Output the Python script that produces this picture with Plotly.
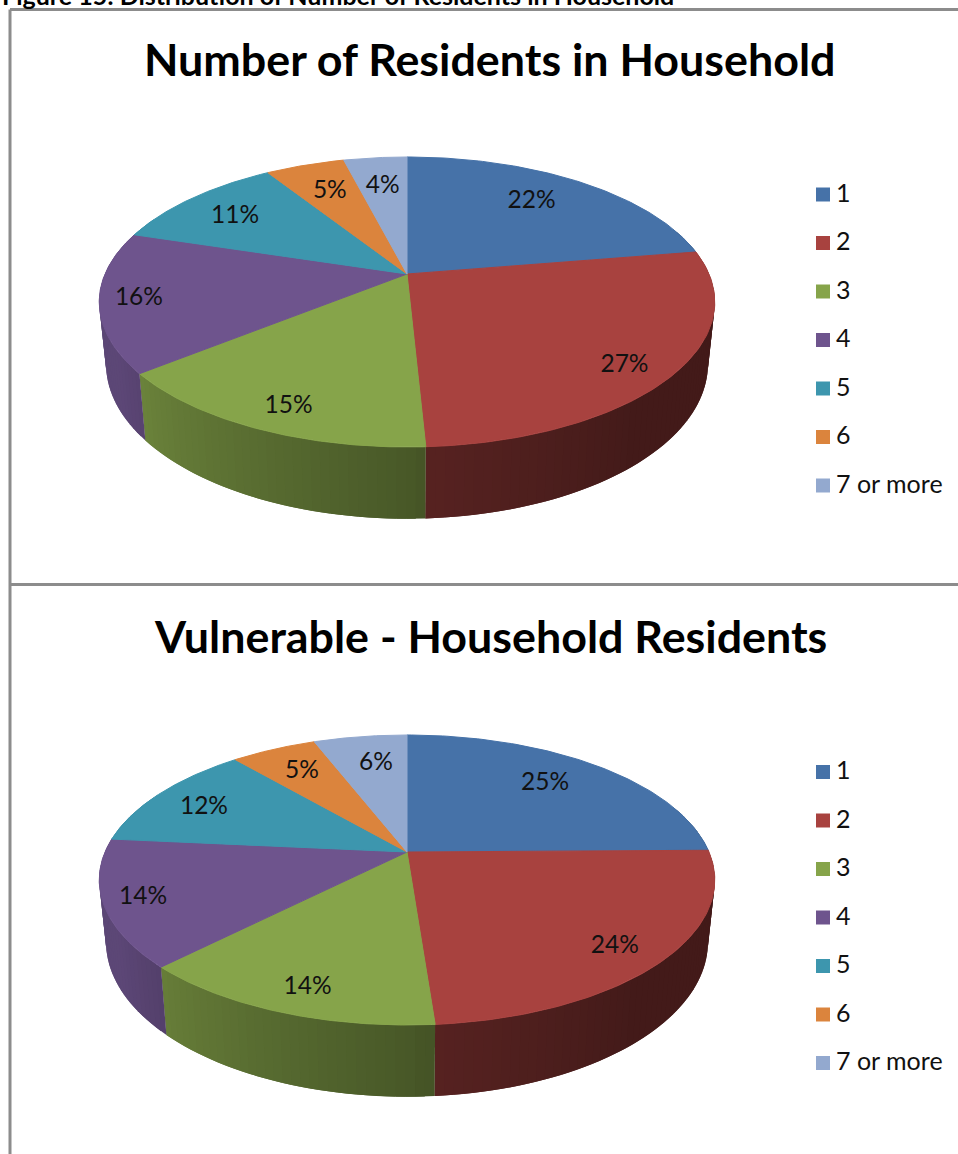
import numpy as np
import plotly.graph_objects as go

CATEGORIES = ["1", "2", "3", "4", "5", "6", "7 or more"]
ALL_VALUES = [22.4, 26.8, 15.0, 15.6, 11.2, 5.0, 4.0]
VULNERABLE_VALUES = [24.8, 24.0, 13.6, 14.1, 12.2, 5.4, 5.9]
ALL_LABEL_RADII = [0.75, 0.86, 0.86, 0.875, 0.77, 0.74, 0.735]
VULNERABLE_LABEL_RADII = [0.75, 0.85, 0.855, 0.875, 0.80, 0.77, 0.75]
ALL_LABEL_TURN = [-2.5, 3.0, -1.4, 0.5, -1.0, 0.4, 0.0]
VULNERABLE_LABEL_TURN = [-2.2, 1.7, -1.2, 0.4, -1.2, 0.3, 1.6]
CAPTION = "Figure 15: Distribution of Number of Residents in Household"
TITLES = ["Number of Residents in Household", "Vulnerable - Household Residents"]
COLORS = [(70, 114, 168), (168, 66, 63), (134, 164, 74), (110, 84, 141),
          (61, 150, 174), (219, 132, 61), (147, 169, 207)]

FONT = "Lato"
TEXT = "#111111"
CX, RX, RY, K = 407.0, 302.0, 139.6, 0.193
DEPTH, SX, SY = 60.0, 0.978, 1.068


def project(t, r, cy, bottom=False):
    """Perspective view of a disc; t is clockwise from 12 o'clock in radians."""
    X, Y = r * np.sin(t), r * np.cos(t)
    w = 1 + K * Y
    dx, dy = RX * X / w, -RY * Y / w
    if bottom:
        return CX + SX * dx, cy + DEPTH + SY * dy
    return CX + dx, cy + dy


def shade(t):
    deg = np.degrees(t) % 360
    return np.interp(deg, [90, 140, 178, 180, 240, 290], [0.40, 0.40, 0.52, 0.54, 0.84, 0.84])


def poly(xs, ys, color, width=1):
    return go.Scatter(x=xs, y=ys, mode="lines", fill="toself", fillcolor=color,
                      line=dict(color=color, width=width),
                      hoverinfo="skip", showlegend=False)


def rgb(c, f=1.0):
    return "rgb(%d,%d,%d)" % tuple(int(round(v * f)) for v in c)


def add_pie(fig, values, label_radii, label_turn, cy, legend_top):
    v = np.array(values, dtype=float)
    edges = np.concatenate([[0], np.cumsum(v) / v.sum()]) * 2 * np.pi

    # Outer wall as narrow shaded strips, only the part facing the viewer.
    # Each strip runs on under the next one so that no seams show.
    for i, c in enumerate(COLORS):
        a, b = max(edges[i], np.radians(70)), min(edges[i + 1], np.radians(295))
        if b <= a:
            continue
        n = max(2, int(np.degrees(b - a) / 1.5))
        ts = np.linspace(a, b, n + 1)
        for t0, t1, t2 in zip(ts[:-1], ts[1:], np.r_[ts[2:], ts[-1]]):
            seg = np.linspace(t0, t2, 5)
            xt, yt = project(seg, 1.0, cy)
            xb, yb = project(seg, 1.0, cy, bottom=True)
            fig.add_trace(poly(np.r_[xt, xb[::-1], xt[0]], np.r_[yt, yb[::-1], yt[0]],
                               rgb(c, shade((t0 + t1) / 2)), width=0))

    # Top face
    for i, c in enumerate(COLORS):
        ts = np.linspace(edges[i], edges[i + 1], 90)
        x, y = project(ts, 1.0, cy)
        x0, y0 = project(0.0, 0.0, cy)
        fig.add_trace(poly(np.r_[x0, x, x0], np.r_[y0, y, y0], rgb(c)))

    # Percentage labels
    mids = (edges[:-1] + edges[1:]) / 2 + np.radians(label_turn)
    lx, ly = project(mids, np.array(label_radii), cy)
    fig.add_trace(go.Scatter(x=lx, y=ly + 2, mode="text",
                             text=[f"{round(p)}%" for p in values],
                             textposition="middle center",
                             textfont=dict(family=FONT, size=24.5, color=TEXT),
                             hoverinfo="skip", showlegend=False))

    # Legend
    ly = legend_top + 48.5 * np.arange(len(CATEGORIES))
    fig.add_trace(go.Scatter(x=[823] * len(CATEGORIES), y=ly + 1, mode="markers",
                             marker=dict(symbol="square", size=14,
                                         color=[rgb(c) for c in COLORS], line=dict(width=0)),
                             hoverinfo="skip", showlegend=False))
    fig.add_trace(go.Scatter(x=[836] * len(CATEGORIES), y=ly + 2, mode="text", text=CATEGORIES,
                             textposition="middle right",
                             textfont=dict(family=FONT, size=25, color=TEXT),
                             hoverinfo="skip", showlegend=False))


fig = go.Figure()
add_pie(fig, ALL_VALUES, ALL_LABEL_RADII, ALL_LABEL_TURN, 274.0, 193.5)
add_pie(fig, VULNERABLE_VALUES, VULNERABLE_LABEL_RADII, VULNERABLE_LABEL_TURN, 852.0, 771.0)

FRAME = "#8c8c8c"
for x0, y0, x1, y1 in [(10, 9.5, 958, 9.5), (10, 9.5, 10, 1154), (10, 584.5, 958, 584.5)]:
    fig.add_shape(type="line", x0=x0, y0=y0, x1=x1, y1=y1, xref="x", yref="y",
                  line=dict(color=FRAME, width=3), layer="below")

for title, y in zip(TITLES, [58.5, 636]):
    fig.add_annotation(x=490, y=y, text=f"<b>{title}</b>", showarrow=False, xref="x", yref="y",
                       xanchor="center", yanchor="middle",
                       font=dict(family=FONT, size=44.8, color="#000000"))
fig.add_annotation(x=0, y=1, yshift=22, text=f"<b>{CAPTION}</b>", showarrow=False,
                   xref="paper", yref="paper", xanchor="left", yanchor="top",
                   font=dict(family=FONT, size=25, color="#000000"))

fig.update_xaxes(range=[0, 958], visible=False, fixedrange=True)
fig.update_yaxes(range=[1154, 0], visible=False, fixedrange=True)
fig.update_layout(width=958, height=1154, margin=dict(l=0, r=0, t=0, b=0),
                  paper_bgcolor="white", plot_bgcolor="white", showlegend=False)
fig.write_html("out.html", config=dict(displayModeBar=False),
               post_script="document.body.style.margin='0';document.documentElement.style.overflow='hidden';")
